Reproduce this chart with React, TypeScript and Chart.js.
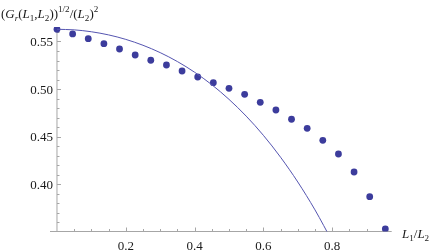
import React, { useEffect, useRef } from "react";
import { Chart, registerables } from "chart.js";

Chart.register(...registerables);

// Data points (L1/L2, value)
const pointX = [0, 0.0455, 0.0909, 0.1364, 0.1818, 0.2273, 0.2727, 0.3182, 0.3636, 0.4091, 0.4545, 0.5, 0.5455, 0.5909, 0.6364, 0.6818, 0.7273, 0.7727, 0.8182, 0.8636, 0.9091, 0.9545];
const pointY = [0.5628, 0.5579, 0.5529, 0.5477, 0.5421, 0.5358, 0.5303, 0.5253, 0.519, 0.5127, 0.5067, 0.5008, 0.4945, 0.4861, 0.478, 0.4683, 0.4588, 0.4462, 0.4318, 0.4129, 0.387, 0.353];

// Solid curve samples
const curveX = [0, 0.05, 0.1, 0.15, 0.2, 0.25, 0.3, 0.35, 0.4, 0.45, 0.5, 0.55, 0.6, 0.65, 0.7, 0.75, 0.8];
const curveY = [0.5628, 0.5622, 0.5602, 0.5569, 0.5522, 0.546, 0.5383, 0.5289, 0.5177, 0.5046, 0.4892, 0.4716, 0.4514, 0.4284, 0.4024, 0.3731, 0.3401];

// Ticks
const xMajorTicks = [0.2, 0.4, 0.6, 0.8];
const xMajorLabels = ["0.2", "0.4", "0.6", "0.8"];
const xMinorTicks = [0.05, 0.1, 0.15, 0.25, 0.3, 0.35, 0.45, 0.5, 0.55, 0.65, 0.7, 0.75, 0.85, 0.9, 0.95];
const yMajorTicks = [0.4, 0.45, 0.5, 0.55];
const yMajorLabels = ["0.40", "0.45", "0.50", "0.55"];
const yMinorTicks = [0.36, 0.37, 0.38, 0.39, 0.41, 0.42, 0.43, 0.44, 0.46, 0.47, 0.48, 0.49, 0.51, 0.52, 0.53, 0.54, 0.56];

type Seg = { t: string; it?: boolean; pos?: "sub" | "sup" };
const titleSegs: Seg[] = [
  { t: "(" }, { t: "G", it: true }, { t: "r", it: true, pos: "sub" }, { t: "(" },
  { t: "L", it: true }, { t: "1", pos: "sub" }, { t: "," }, { t: "L", it: true },
  { t: "2", pos: "sub" }, { t: "))" }, { t: "1/2", pos: "sup" }, { t: "/(" },
  { t: "L", it: true }, { t: "2", pos: "sub" }, { t: ")" }, { t: "2", pos: "sup" },
];
const xLabelSegs: Seg[] = [
  { t: "L", it: true }, { t: "1", pos: "sub" }, { t: "/" }, { t: "L", it: true }, { t: "2", pos: "sub" },
];

const FONT = '"Liberation Serif", "Times New Roman", serif';

function drawRich(ctx: CanvasRenderingContext2D, segs: Seg[], x: number, y: number, size: number) {
  let cx = x;
  for (const s of segs) {
    const sz = s.pos ? size * 0.7 : size;
    ctx.font = `${s.it ? "italic " : ""}${sz}px ${FONT}`;
    const dy = s.pos === "sub" ? size * 0.25 : s.pos === "sup" ? -size * 0.4 : 0;
    ctx.fillText(s.t, cx, y + dy);
    cx += ctx.measureText(s.t).width;
  }
}

const axesPlugin = {
  id: "mmaAxes",
  beforeDatasetsDraw(chart: any) {
    const ctx: CanvasRenderingContext2D = chart.ctx;
    const xs = chart.scales.x;
    const ys = chart.scales.y;
    const area = chart.chartArea;
    const x0 = xs.getPixelForValue(0);
    const yb = area.bottom;
    ctx.save();
    ctx.strokeStyle = "#a6a6a6";
    ctx.lineWidth = 1;
    // axes
    ctx.beginPath();
    ctx.moveTo(area.left, yb);
    ctx.lineTo(area.right, yb);
    ctx.moveTo(x0, area.top);
    ctx.lineTo(x0, yb);
    ctx.stroke();
    ctx.beginPath();
    for (const v of xMajorTicks) {
      const p = Math.round(xs.getPixelForValue(v)) + 0.5;
      ctx.moveTo(p, yb);
      ctx.lineTo(p, yb - 4);
    }
    for (const v of xMinorTicks) {
      const p = Math.round(xs.getPixelForValue(v)) + 0.5;
      ctx.moveTo(p, yb);
      ctx.lineTo(p, yb - 2.5);
    }
    for (const v of yMajorTicks) {
      const p = Math.round(ys.getPixelForValue(v)) + 0.5;
      ctx.moveTo(x0, p);
      ctx.lineTo(x0 + 4, p);
    }
    for (const v of yMinorTicks) {
      const p = Math.round(ys.getPixelForValue(v)) + 0.5;
      ctx.moveTo(x0, p);
      ctx.lineTo(x0 + 2.5, p);
    }
    ctx.stroke();
    // labels
    ctx.fillStyle = "#1a1a1a";
    ctx.font = `13px ${FONT}`;
    ctx.textBaseline = "alphabetic";
    ctx.textAlign = "center";
    xMajorTicks.forEach((v, i) => {
      ctx.fillText(xMajorLabels[i], xs.getPixelForValue(v), 250);
    });
    ctx.textAlign = "right";
    yMajorTicks.forEach((v, i) => {
      ctx.fillText(yMajorLabels[i], x0 - 4, ys.getPixelForValue(v) + 4.5);
    });
    ctx.textAlign = "left";
    drawRich(ctx, titleSegs, 1, 17.5, 13);
    drawRich(ctx, xLabelSegs, 402, 238, 13);
    ctx.restore();
  },
};

export default function App() {
  const ref = useRef<HTMLCanvasElement>(null);
  useEffect(() => {
    const canvas = ref.current!;
    const chart = new Chart(canvas, {
      type: "scatter",
      data: {
        datasets: [
          {
            type: "line",
            data: curveX.map((x, i) => ({ x, y: curveY[i] })),
            borderColor: "#5555b0",
            borderWidth: 1,
            pointRadius: 0,
            tension: 0.4,
            cubicInterpolationMode: "monotone",
            fill: false,
          } as any,
          {
            data: pointX.map((x, i) => ({ x, y: pointY[i] })),
            backgroundColor: "#3c3c9c",
            borderWidth: 0,
            pointRadius: 3.4,
          },
        ],
      },
      options: {
        responsive: false,
        animation: false,
        devicePixelRatio: 1,
        layout: { padding: { left: 50, right: 44.3, top: 27, bottom: 20.5 } },
        plugins: { legend: { display: false }, tooltip: { enabled: false } },
        scales: {
          x: { type: "linear", min: -0.0203, max: 0.973, display: false },
          y: { type: "linear", min: 0.3504, max: 0.5652, display: false },
        },
      },
      plugins: [axesPlugin],
    });
    return () => chart.destroy();
  }, []);
  return (
    <div style={{ position: "absolute", left: 0, top: 0, width: 436, height: 252, background: "#fff" }}>
      <canvas ref={ref} width={436} height={252} style={{ width: 436, height: 252 }} />
    </div>
  );
}
